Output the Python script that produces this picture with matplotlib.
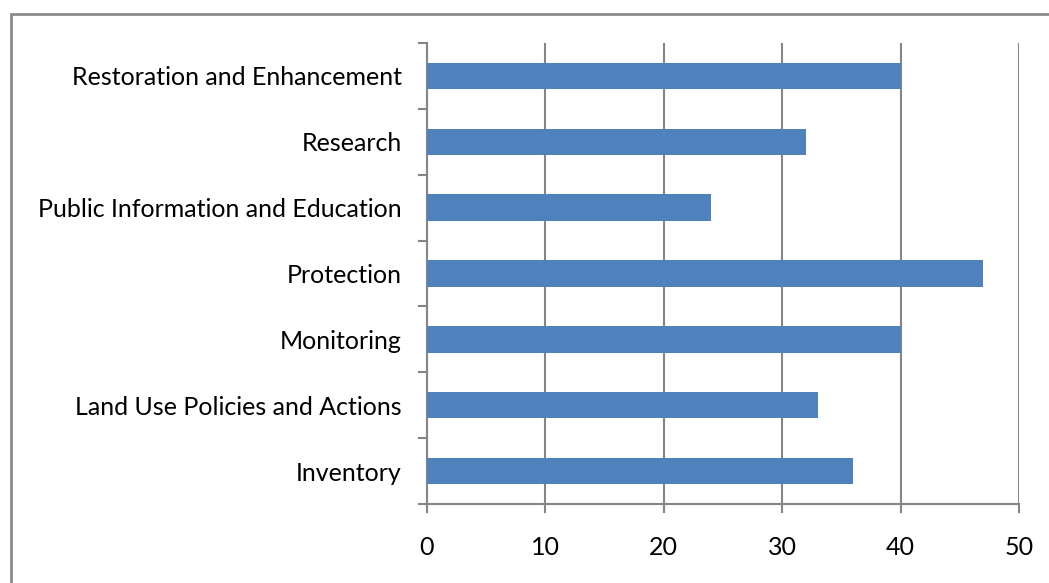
import matplotlib
matplotlib.use('Agg')
import matplotlib.pyplot as plt
from matplotlib.patches import Rectangle

# Data, bottom to top as drawn
categories = [
    "Inventory",
    "Land Use Policies and Actions",
    "Monitoring",
    "Protection",
    "Public Information and Education",
    "Research",
    "Restoration and Enhancement",
]
values = [36, 33, 40, 47, 24, 32, 40]
x_ticks = [0, 10, 20, 30, 40, 50]

plt.rcParams['font.family'] = ['Lato', 'DejaVu Sans']

fig = plt.figure(figsize=(10.49, 5.83), dpi=100)
ax = fig.add_axes([427 / 1049, 1 - 504 / 583, (1019 - 427) / 1049, (504 - 43) / 583])

grid_col = '#868686'
ax.barh(range(len(categories)), values, height=0.4, color='#4F81BD', zorder=3)

ax.set_xlim(0, 50)
ax.set_ylim(-0.5, len(categories) - 0.5)
ax.set_xticks(x_ticks)
ax.set_xticklabels([str(t) for t in x_ticks], fontsize=18)
ax.set_yticks(range(len(categories)))
ax.set_yticklabels(categories, fontsize=18)
ax.tick_params(axis='y', length=0, pad=18)
ax.tick_params(axis='x', length=0, pad=23)

# Excel-style category tick marks between bands
for y in [i - 0.5 for i in range(len(categories) + 1)]:
    ax.plot([-0.7, 0], [y, y], color=grid_col, lw=1.5, clip_on=False, zorder=4)
for x in x_ticks:
    ax.plot([x, x], [-0.5, -0.62], color=grid_col, lw=1.5, clip_on=False, zorder=4)

ax.grid(axis='x', color=grid_col, lw=1.5, zorder=0)
for side in ['top', 'right']:
    ax.spines[side].set_visible(False)
for side in ['left', 'bottom']:
    ax.spines[side].set_color(grid_col)
    ax.spines[side].set_linewidth(1.5)

# outer chart border (runs off the right and bottom edges)
fig.patches.append(Rectangle((11 / 1049, -0.1), 1.2, 1.1 - 14 / 583, transform=fig.transFigure,
                             fill=False, edgecolor='#8c8c8c', lw=2))

fig.savefig("out.png", dpi=100)
plt.close(fig)
